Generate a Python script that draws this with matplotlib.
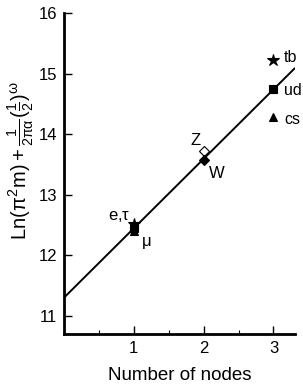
import matplotlib
matplotlib.use("Agg")
import matplotlib.pyplot as plt
import numpy as np

plt.rcParams['font.family'] = ['Liberation Sans', 'DejaVu Sans']
plt.rcParams['mathtext.fontset'] = 'custom'
plt.rcParams['mathtext.rm'] = 'Liberation Sans'
plt.rcParams['mathtext.it'] = 'Liberation Sans'

# fit line
fit_x = [0.0, 3.3]
fit_intercept = 11.30
fit_slope = 1.147

# particles: nodes, value, marker, filled
names = ['tb', 'ud', 'cs', 'Z', 'W', 'e', 'tau', 'mu']
nodes = [3, 3, 3, 2, 2, 1, 1, 1]
values = [15.22, 14.74, 14.28, 13.72, 13.57, 12.52, 12.46, 12.41]
markers = ['*', 's', '^', 'D', 'D', '*', 's', '^']
filled = [True, True, True, False, True, True, True, True]

fig = plt.figure(figsize=(3.03, 3.88), dpi=100)
ax = fig.add_axes([0.211, 0.139, 0.763, 0.827])

xs = np.array(fit_x)
ax.plot(xs, fit_intercept + fit_slope * xs, color='black', lw=1.4, zorder=2)

for n, v, m, f in zip(nodes, values, markers, filled):
    ms = 9 if m == '*' else 6
    if m == 'D':
        ms = 5
    ax.plot(n, v, marker=m, ms=ms, color='black',
            mfc='black' if f else 'white', mec='black', mew=0.8,
            linestyle='none', zorder=3)

fs = 11.5
ax.text(3.15, 15.27, 'tb', fontsize=fs, va='center')
ax.text(3.15, 14.73, 'ud', fontsize=fs, va='center')
ax.text(3.15, 14.25, 'cs', fontsize=fs, va='center')
ax.text(1.81, 13.90, 'Z', fontsize=12, va='center')
ax.text(2.07, 13.35, 'W', fontsize=12, va='center')
ax.text(0.63, 12.65, r'e,$\tau$', fontsize=12, va='center')
ax.text(1.1, 12.21, r'$\mu$', fontsize=12, va='center')

ax.set_xlim(0, 3.31)
ax.set_ylim(10.7, 16)
ax.set_xticks([1, 2, 3])
ax.set_xticks([0.5, 1.5, 2.5], minor=True)
ax.set_yticks([11, 12, 13, 14, 15, 16])
ax.tick_params(axis='both', direction='in', length=6, width=1, labelsize=12)
ax.tick_params(axis='x', which='minor', direction='in', length=3, width=0.8)
ax.tick_params(axis='y', pad=5)
ax.tick_params(axis='x', pad=5)

for s in ['top', 'right']:
    ax.spines[s].set_visible(False)
ax.spines['left'].set_linewidth(2)
ax.spines['bottom'].set_linewidth(2)

ax.set_xlabel('Number of nodes', fontsize=13.5, labelpad=8)
ax.set_ylabel(r'Ln$(\pi^2$m$) + \frac{1}{2\pi\alpha}(\frac{1}{2})^{\omega}$',
              fontsize=14.5)
ax.yaxis.set_label_coords(-0.12, 0.54)

fig.savefig('out.png', dpi=100)
